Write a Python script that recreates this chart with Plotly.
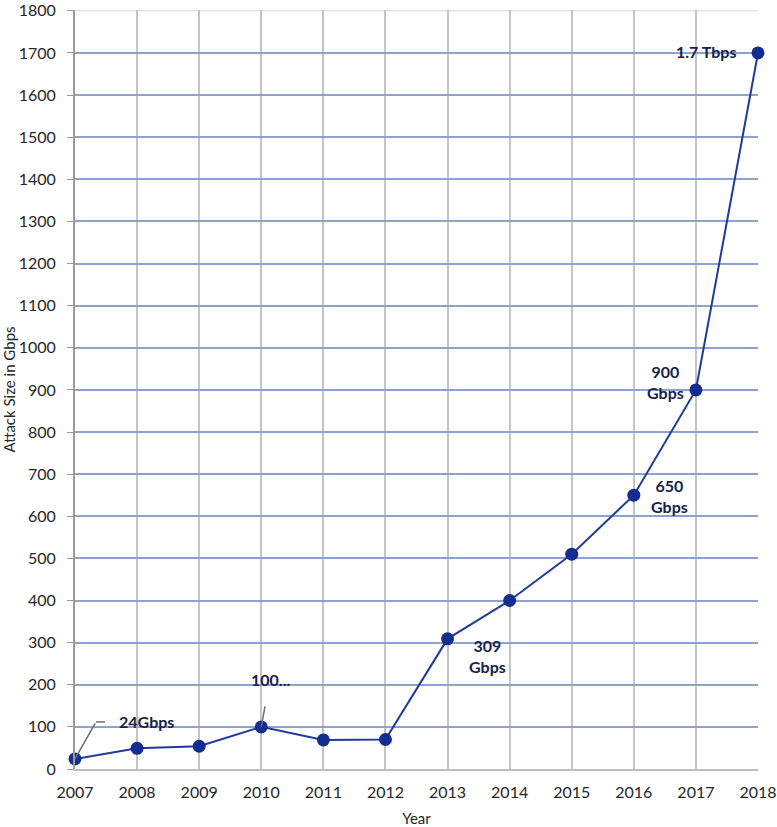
import plotly.graph_objects as go

years = [2007, 2008, 2009, 2010, 2011, 2012, 2013, 2014, 2015, 2016, 2017, 2018]
attack_gbps = [24, 49, 54, 100, 69, 70, 309, 400, 510, 650, 900, 1700]
y_ticks = list(range(0, 1801, 100))

# labels: (index, text, xshift, yshift, xanchor)
labels = [
    (0, "24Gbps", 71, 37, "center"),
    (3, "100...", 9, 47, "center"),
    (6, "309<br>Gbps", 40, -17, "center"),
    (9, "650<br>Gbps", 36, -1, "center"),
    (10, "900<br>Gbps", -30, 8, "center"),
    (11, "1.7 Tbps", -20, 1, "right"),
]

FONT = "Lato, 'Open Sans', sans-serif"
NAVY = "#15224a"
LINE = "#1f3a9c"

fig = go.Figure()
fig.add_trace(go.Scatter(
    x=years, y=attack_gbps, mode="lines+markers",
    line=dict(color=LINE, width=2),
    marker=dict(color="#132e8f", size=13),
    cliponaxis=False, showlegend=False,
))

for idx, text, xs, ys, xa in labels:
    fig.add_annotation(
        x=years[idx], y=attack_gbps[idx], text=f"<b>{text}</b>",
        showarrow=False, xshift=xs, yshift=ys, xanchor=xa,
        font=dict(family=FONT, size=16, color=NAVY),
    )

# leader lines
fig.add_annotation(x=years[0], y=attack_gbps[0], text="", showarrow=True,
                   ax=21, ay=-37, arrowhead=0, arrowwidth=1.5, arrowcolor="#6e6e6e",
                   standoff=0, startstandoff=0)
fig.add_shape(type="line", xref="x", yref="y", xsizemode="pixel", ysizemode="pixel",
              xanchor=years[0], yanchor=attack_gbps[0], x0=21, x1=30, y0=37, y1=37,
              line=dict(color="#6e6e6e", width=1.5))
fig.add_annotation(x=years[3], y=attack_gbps[3], text="", showarrow=True,
                   ax=4, ay=-22, arrowhead=0, arrowwidth=1.5, arrowcolor="#6e6e6e",
                   standoff=0, startstandoff=0)

fig.update_layout(
    width=777, height=827,
    margin=dict(l=75, r=19, t=10, b=58),
    paper_bgcolor="white", plot_bgcolor="white",
    font=dict(family=FONT, size=16, color="#262626"),
)
fig.update_xaxes(
    range=[2007, 2018], tickmode="array", tickvals=years,
    ticktext=[str(y) for y in years],
    showgrid=True, gridcolor="#c4c4c4", gridwidth=1.5,
    showline=True, linecolor="#bfbfbf", linewidth=2,
    ticks="", ticklabelstandoff=8, zeroline=False, automargin=False,
    ticklabeloverflow="allow",
    tickfont=dict(size=16),
    title=dict(text="Year", font=dict(size=15), standoff=15),
)
fig.update_yaxes(
    range=[0, 1802], tickmode="array", tickvals=y_ticks,
    showgrid=True, gridcolor="#8ea2d2", gridwidth=1.5,
    showline=True, linecolor="#9a9a9a", linewidth=2,
    ticks="outside", ticklen=6, tickcolor="#9a9a9a",
    ticklabelstandoff=8, zeroline=False, automargin=False,
    ticklabeloverflow="allow",
    tickfont=dict(size=16),
    title=dict(text="Attack Size in Gbps", font=dict(size=15), standoff=8),
)
fig.add_shape(type="line", xref="paper", yref="y", x0=0, x1=1, y0=y_ticks[-1], y1=y_ticks[-1],
              line=dict(color="#dfe3ee", width=1.5), layer="below")

fig.write_html("out.html", config={"displayModeBar": False},
               post_script="document.body.style.margin='0';document.body.style.padding='0';")
